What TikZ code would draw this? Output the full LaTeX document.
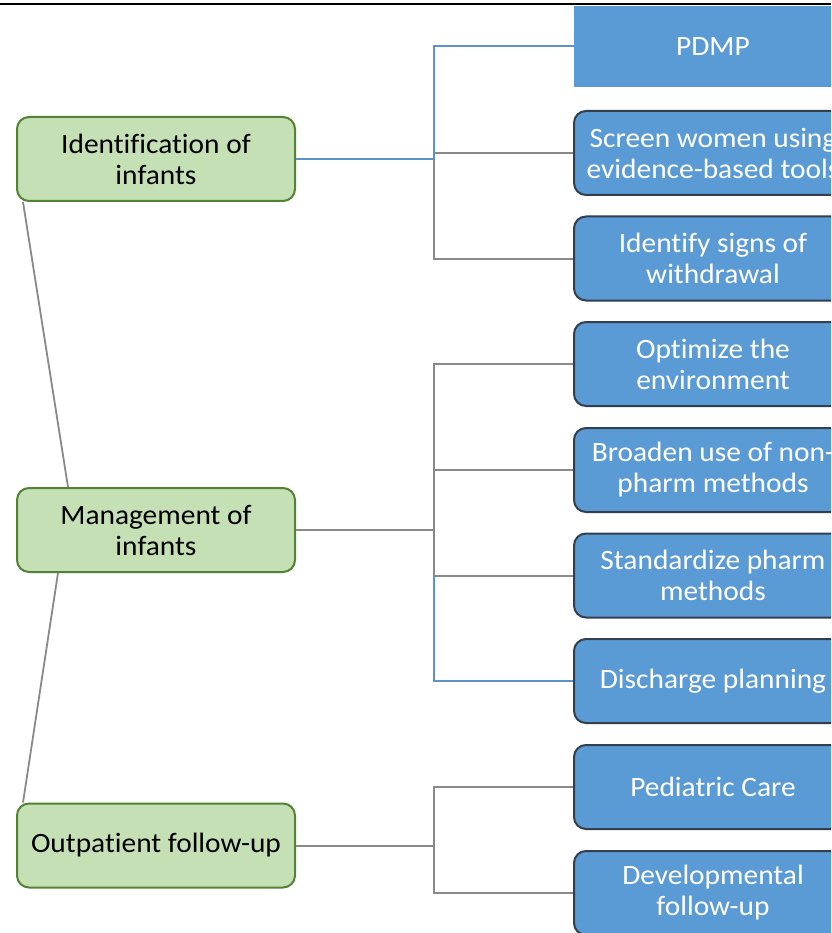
\documentclass[tikz,border=0pt]{standalone}
\usepackage{fontspec}
\setmainfont[Ligatures=NoCommon,FakeStretch=1.05]{Carlito}
\usetikzlibrary{positioning}
\definecolor{bluefill}{HTML}{5B9BD5}
\definecolor{blueedge}{HTML}{323F4F}
\definecolor{greenfill}{HTML}{C5E0B4}
\definecolor{greenedge}{HTML}{548235}
\definecolor{greyline}{HTML}{898989}
\definecolor{blueline}{HTML}{5B92CC}
\tikzset{
  cat/.style={draw=greenedge, fill=greenfill, line width=2pt, rounded corners=12pt,
    minimum width=278pt, minimum height=84pt, align=center, text=black,
    font=\fontsize{28}{31}\selectfont, inner sep=0pt},
  item/.style={draw=blueedge, fill=bluefill, line width=2pt, rounded corners=12pt,
    minimum width=278pt, minimum height=84pt, align=center, text=white,
    font=\fontsize{28}{31}\selectfont, inner sep=0pt},
  flatitem/.style={fill=bluefill, minimum width=278pt, minimum height=81pt,
    align=center, text=white, font=\fontsize{28}{31}\selectfont, inner sep=0pt},
  gl/.style={draw=greyline, line width=2pt},
  bl/.style={draw=blueline, line width=2pt},
}
\begin{document}
\begin{tikzpicture}[x=1pt,y=-1pt]
\useasboundingbox (0,0) rectangle (831,933);
\clip (0,0) rectangle (831,933);
\fill[white] (0,0) rectangle (831,933);
\draw[black, line width=2pt] (0,4) -- (831,4);

% category nodes
\node[cat] (ident) at (156,159) {Identification of\\infants};
\node[cat] (manage) at (156,530) {Management of\\infants};
\node[cat] (outpat) at (156,845.5) {Outpatient follow-up};

% items
\node[flatitem] (pdmp) at (713,46.5) {PDMP};
\node[item] (screen) at (713,153) {Screen women using\\evidence-based tools};
\node[item] (signs) at (713,258.5) {Identify signs of\\withdrawal};
\node[item] (optim) at (713,364) {Optimize the\\environment};
\node[item] (broad) at (713,470) {Broaden use of non-\\pharm methods};
\node[item] (stand) at (713,575.5) {Standardize pharm\\methods};
\node[item] (disch) at (713,681) {Discharge planning};
\node[item] (pedi) at (713,787) {Pediatric Care};
\node[item] (devel) at (713,893) {Developmental\\follow-up};

% junction points
\coordinate (j1) at (434,159);
\coordinate (j2) at (434,530);
\coordinate (j3) at (434,845.5);

% identification branch
\draw[gl] (j1) |- (screen.west);
\draw[gl] (j1) |- (signs.west);
\draw[bl] (ident.east) -- (j1) |- (pdmp.west);

% management branch
\draw[gl] (manage.east) -- (j2);
\draw[gl] (j2) |- (optim.west);
\draw[gl] (j2) |- (broad.west);
\draw[gl] (j2) |- (stand.west);
\coordinate (j2b) at (434,575.5);
\draw[bl] (j2b) |- (disch.west);

% outpatient branch
\draw[gl] (outpat.east) -- (j3);
\draw[gl] (j3) |- (pedi.west);
\draw[gl] (j3) |- (devel.west);

% left links between categories
\draw[gl, line width=1.8pt] ([xshift=7pt]ident.south west) -- ([xshift=52pt]manage.north west);
\draw[gl, line width=1.8pt] ([xshift=42pt]manage.south west) -- ([xshift=7pt]outpat.north west);
\end{tikzpicture}
\end{document}
